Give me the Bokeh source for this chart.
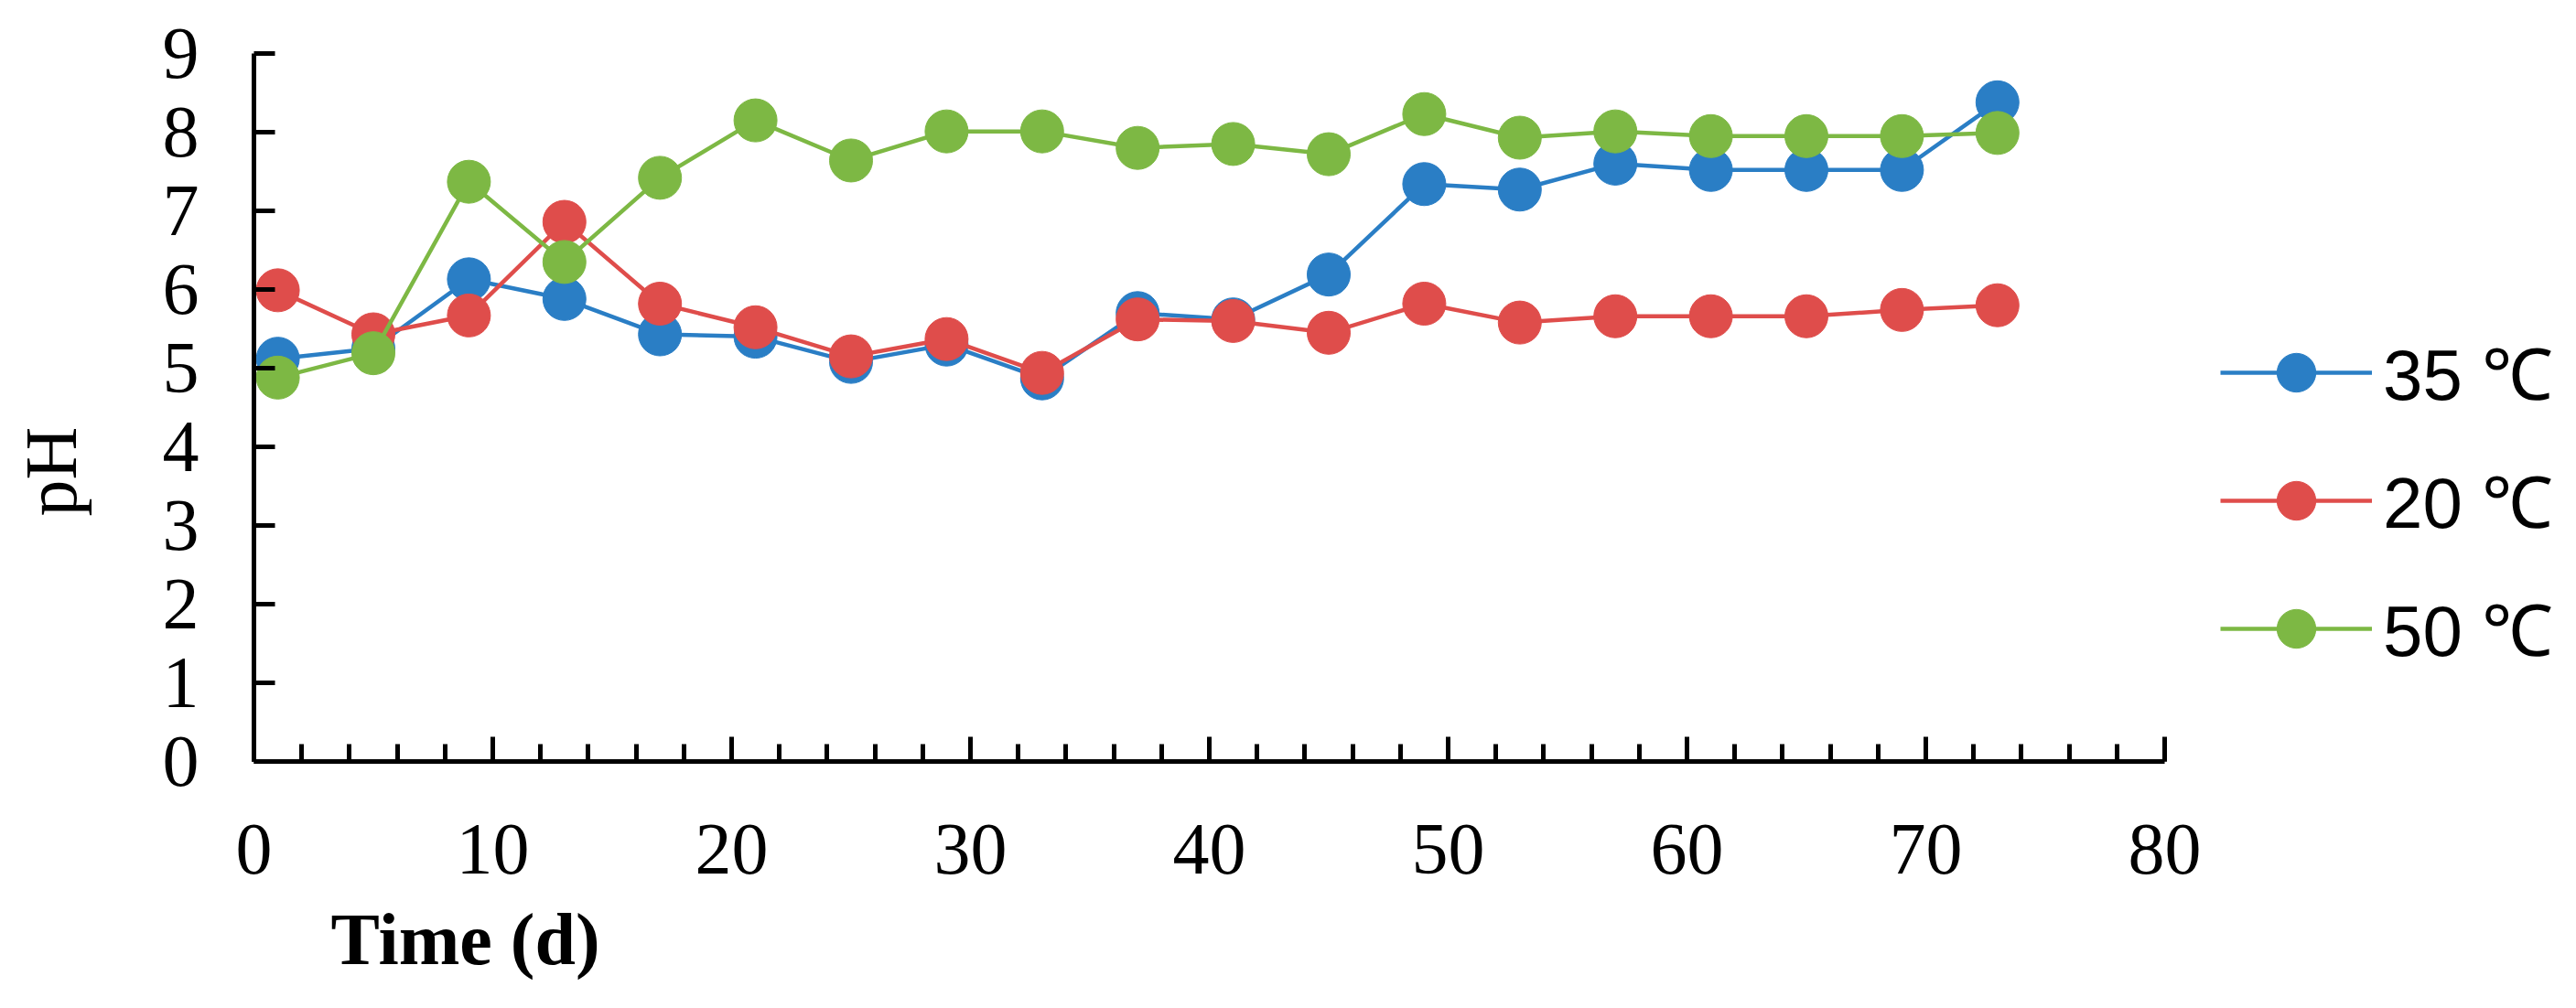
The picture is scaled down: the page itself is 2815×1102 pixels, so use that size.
from bokeh.plotting import figure
from bokeh.models import Range1d, FixedTicker, Legend, LegendItem, Title
from bokeh.embed import file_html
from bokeh.resources import INLINE

# ---- data ----
days = [1, 5, 9, 13, 17, 21, 25, 29, 33, 37, 41, 45, 49, 53, 57, 61, 65, 69, 73]
ph_35 = [5.12, 5.25, 6.13, 5.88, 5.43, 5.40, 5.08, 5.30, 4.87, 5.70, 5.62, 6.19,
         7.34, 7.27, 7.60, 7.52, 7.52, 7.52, 8.38]
ph_20 = [5.99, 5.43, 5.67, 6.86, 5.82, 5.52, 5.15, 5.37, 4.94, 5.62, 5.60, 5.45,
         5.82, 5.58, 5.66, 5.66, 5.66, 5.74, 5.80]
ph_50 = [4.88, 5.19, 7.37, 6.35, 7.42, 8.15, 7.64, 8.01, 8.01, 7.80, 7.85, 7.72,
         8.23, 7.93, 8.01, 7.95, 7.95, 7.95, 7.99]
series_names = ["35 ℃", "20 ℃", "50 ℃"]
series_colors = ["#2A7EC5", "#DF4D4B", "#7DB844"]
x_ticks = [0, 10, 20, 30, 40, 50, 60, 70, 80]
x_minor = list(range(0, 81, 2))
y_ticks = [0, 1, 2, 3, 4, 5, 6, 7, 8, 9]
X_MIN, X_MAX = 0, 80

SERIF = "'Liberation Serif', 'Times New Roman', serif"
NARROW = "'Liberation Sans Narrow', 'Liberation Sans', sans-serif"

# ---- layout (pixels) ----
W, H = 2807, 1100
LEFT, TOP, BOTTOM = 277, 58, 832      # frame edges
AXIS_RIGHT = 2365                      # where x = 80 sits
# the frame runs to the right edge so that the legend (inside it) is not clipped;
# the x axis itself is bounded to 0..80
x_end = X_MIN + (X_MAX - X_MIN) * (W - LEFT) / (AXIS_RIGHT - LEFT)

p = figure(width=W, height=H, output_backend="svg", toolbar_location=None,
           x_range=Range1d(X_MIN, x_end), y_range=Range1d(0, 9),
           min_border_left=LEFT, min_border_right=0,
           min_border_top=TOP, min_border_bottom=H - BOTTOM)
p.outline_line_color = None
p.xgrid.visible = False
p.ygrid.visible = False
p.background_fill_color = "white"
p.border_fill_color = "white"

for ax in (p.xaxis[0], p.yaxis[0]):
    ax.axis_line_width = 5
    ax.axis_line_color = "black"
    ax.major_tick_line_width = 5
    ax.minor_tick_line_width = 5
    ax.major_tick_out = 0
    ax.minor_tick_out = 0
    ax.major_label_text_font = SERIF
    ax.major_label_text_font_size = "80px"
    ax.major_label_text_color = "black"

p.xaxis[0].bounds = (X_MIN, X_MAX)
p.xaxis[0].ticker = FixedTicker(ticks=x_ticks, minor_ticks=x_minor)
p.xaxis[0].major_tick_in = 27
p.xaxis[0].minor_tick_in = 19
p.xaxis[0].major_label_standoff = 69

p.yaxis[0].ticker = FixedTicker(ticks=y_ticks, minor_ticks=[])
p.yaxis[0].major_tick_in = 23
p.yaxis[0].minor_tick_in = 0
p.yaxis[0].major_label_standoff = 60
# axis title, padded so that it sits a little below the frame's middle
p.yaxis[0].axis_label = "pH" + "\u00a0" * 7
p.yaxis[0].axis_label_text_font = SERIF
p.yaxis[0].axis_label_text_font_size = "80px"
p.yaxis[0].axis_label_text_font_style = "normal"
p.yaxis[0].axis_label_text_color = "black"
p.yaxis[0].axis_label_standoff = 75

items = []
for name, col, vals in zip(series_names, series_colors, [ph_35, ph_20, ph_50]):
    ln = p.line(days, vals, line_color=col, line_width=4.5)
    sc = p.scatter(days, vals, marker="circle", size=47, fill_color=col, line_color=col)
    items.append(LegendItem(label=name, renderers=[ln, sc]))

legend = Legend(items=items, location=(2426 - LEFT, 92),
                glyph_width=166, glyph_height=106, label_height=60,
                spacing=34, padding=0, margin=0, label_standoff=12,
                border_line_color=None, background_fill_alpha=0,
                label_text_font=NARROW, label_text_font_size="78px",
                label_text_color="black")
p.add_layout(legend, "center")

p.add_layout(Title(text="Time (d)", align="left", offset=84, standoff=46,
                   text_font=SERIF, text_font_size="80px", text_font_style="bold",
                   text_color="black"), "below")

open("out.html", "w").write(file_html(p, INLINE))
